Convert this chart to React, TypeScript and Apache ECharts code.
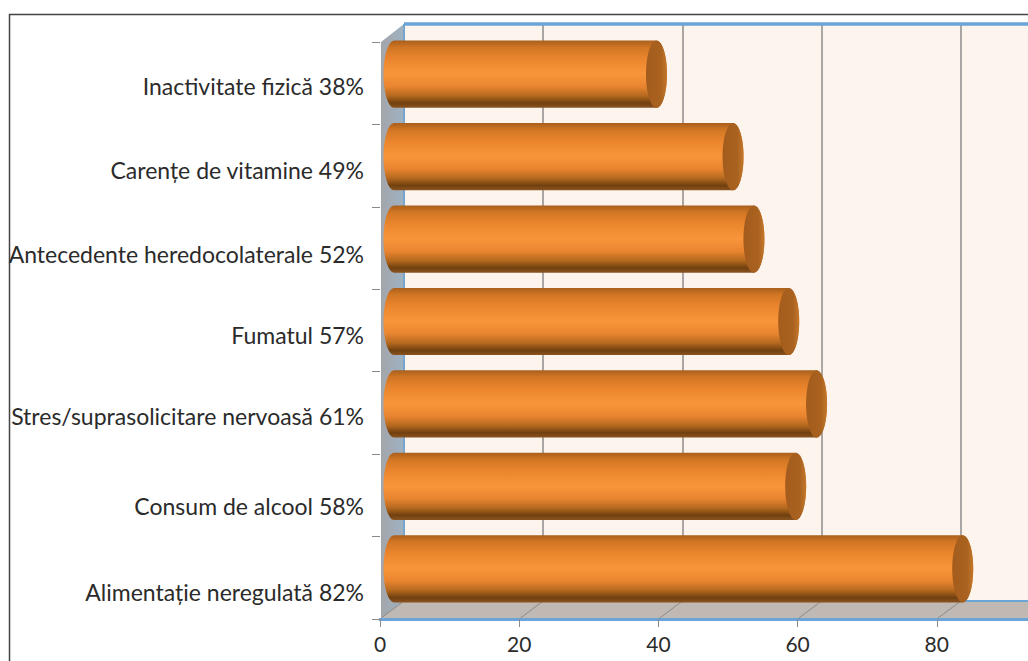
import React, { useEffect, useRef } from "react";
import * as echarts from "echarts";

const categories = [
  "Inactivitate fizică 38%",
  "Carențe de vitamine 49%",
  "Antecedente heredocolaterale 52%",
  "Fumatul 57%",
  "Stres/suprasolicitare nervoasă 61%",
  "Consum de alcool 58%",
  "Alimentație neregulată 82%",
];
const values = [38, 49, 52, 57, 61, 58, 82];
const xTicks = [0, 20, 40, 60, 80, 100];
// How far each category label is lifted off its band centre
const labelLift = [0, 0, 1, 4, 7, 2, 0];

const FONT = "Lato, 'Open Sans', sans-serif";
const TEXT = "#2b2b2b";
const BLUE = "#6aa4d8";
// Depth of the 3D box, from the front plane to the back wall
const DEPTH_X = 24;
const DEPTH_Y = -18;

const bodyFill = new echarts.graphic.LinearGradient(0, 0, 0, 1, [
  { offset: 0, color: "#a95f1c" },
  { offset: 0.1, color: "#d17624" },
  { offset: 0.28, color: "#ec862e" },
  { offset: 0.5, color: "#f8953a" },
  { offset: 0.68, color: "#e98530" },
  { offset: 0.82, color: "#b5691f" },
  { offset: 0.93, color: "#70400f" },
  { offset: 1, color: "#8a5420" },
]);
const capFill = new echarts.graphic.LinearGradient(0, 0, 1, 0, [
  { offset: 0, color: "#a35c1c" },
  { offset: 0.7, color: "#a9621f" },
  { offset: 1, color: "#c4772b" },
]);

// Left wall, floor and the blue frame lines of the box
function renderCasing(params: any) {
  const { x, y, width, height } = params.coordSys;
  const right = x + width;
  const bottom = y + height;
  const bx = x + DEPTH_X;
  const byTop = y + DEPTH_Y;
  const byBottom = bottom + DEPTH_Y;
  const line = (x1: number, y1: number, x2: number, y2: number, w: number) => ({
    type: "line",
    shape: { x1, y1, x2, y2 },
    style: { stroke: BLUE, lineWidth: w },
  });
  return {
    type: "group",
    children: [
      {
        type: "polygon",
        shape: { points: [[x + 1, y], [bx, byTop], [bx, byBottom], [x + 1, bottom]] },
        style: {
          fill: new echarts.graphic.LinearGradient(0, 0, 1, 0, [
            { offset: 0, color: "#a3a5ab" },
            { offset: 1, color: "#9fb2c2" },
          ]),
        },
      },
      {
        type: "polygon",
        shape: { points: [[x, bottom], [bx, byBottom], [right, byBottom], [right, bottom]] },
        style: { fill: "#bfb8b3" },
      },
      line(bx, byTop, right, byTop, 3.5),
      line(bx, byTop, bx, byBottom, 1.5),
      line(bx, byBottom, right, byBottom, 2),
    ],
  };
}

// Diagonal floor lines running from each front tick to the back wall
function renderFloorLine(params: any, api: any) {
  const [px] = api.coord([api.value(0), 0]);
  const bottom = params.coordSys.y + params.coordSys.height;
  return {
    type: "line",
    shape: { x1: px, y1: bottom, x2: px + DEPTH_X, y2: bottom + DEPTH_Y },
    style: { stroke: "#8f8a86", lineWidth: 1 },
  };
}

// One horizontal cylinder, centred in the depth of the box
function renderCylinder(_params: any, api: any) {
  const [endX, midY] = api.coord([api.value(0), api.value(1)]);
  const [startX] = api.coord([0, api.value(1)]);
  const h = api.size([0, 1])[1] * 0.815;
  const rx = 10.5;
  const ry = h / 2;
  const x0 = startX + DEPTH_X / 2 + 2;
  const x1 = endX + DEPTH_X / 2;
  const cy = midY + DEPTH_Y / 2;
  const top = cy - ry;
  const low = cy + ry;
  return {
    type: "group",
    children: [
      {
        type: "path",
        shape: {
          pathData: `M${x0} ${top}L${x1} ${top}A${rx} ${ry} 0 0 1 ${x1} ${low}L${x0} ${low}A${rx} ${ry} 0 0 1 ${x0} ${top}Z`,
          layout: "none",
        },
        style: { fill: bodyFill },
      },
      {
        type: "ellipse",
        shape: { cx: x1, cy, rx, ry },
        style: { fill: capFill },
      },
    ],
  };
}

// One rich-text style per lifted label
const labelRich: Record<string, any> = {};
labelLift.forEach((lift, i) => {
  labelRich[`c${i}`] = {
    color: TEXT,
    fontSize: 23,
    fontFamily: FONT,
    padding: [0, 0, lift * 2, 0],
  };
});

export default function App() {
  const ref = useRef<HTMLDivElement>(null);

  useEffect(() => {
    document.body.style.margin = "0";
    const chart = echarts.init(ref.current!, null, { renderer: "svg" });
    chart.setOption({
      animation: false,
      backgroundColor: "#ffffff",
      textStyle: { fontFamily: FONT },
      graphic: [
        {
          type: "polyline",
          shape: { points: [[9.5, 700], [9.5, 14.5], [1100, 14.5]] },
          style: { stroke: "#444444", lineWidth: 1.5, fill: "none" },
        },
      ],
      grid: [
        // Front plane of the box: ticks, value axis and the cylinders
        { left: 380, top: 42, width: 696, height: 577, outerBoundsMode: "none" },
        // Back wall with its vertical grid lines
        {
          left: 380 + DEPTH_X,
          top: 42 + DEPTH_Y,
          width: 696,
          height: 577,
          outerBoundsMode: "none",
          show: true,
          backgroundColor: "#fdf4ee",
          borderWidth: 0,
        },
        // Category labels sit on a slightly wider pitch than the ticks
        { left: 380, top: 44, width: 696, height: 590, outerBoundsMode: "none" },
      ],
      xAxis: [
        {
          type: "value",
          gridIndex: 0,
          min: 0,
          max: 100,
          interval: 20,
          splitLine: { show: false },
          axisLine: { show: true, onZero: false, lineStyle: { color: BLUE, width: 3 } },
          axisTick: { show: true, length: 8, lineStyle: { color: "#8a8a8a", width: 1 } },
          axisLabel: { color: TEXT, fontSize: 21, fontFamily: FONT, margin: 14, showMaxLabel: false },
          z: 6,
        },
        {
          type: "value",
          gridIndex: 1,
          min: 0,
          max: 100,
          interval: 20,
          axisLine: { show: false },
          axisTick: { show: false },
          axisLabel: { show: false },
          splitLine: { show: true, lineStyle: { color: "#8d8d8d", width: 1.5 } },
        },
        { type: "value", gridIndex: 2, min: 0, max: 100, show: false },
      ],
      yAxis: [
        {
          type: "category",
          gridIndex: 0,
          inverse: true,
          data: categories,
          axisLine: { show: false },
          axisTick: { show: true, length: 8, alignWithLabel: false, lineStyle: { color: "#8a8a8a", width: 1 } },
          axisLabel: { show: false },
          z: 6,
        },
        {
          type: "category",
          gridIndex: 1,
          inverse: true,
          data: categories,
          show: false,
        },
        {
          type: "category",
          gridIndex: 2,
          inverse: true,
          data: categories,
          axisLine: { show: false },
          axisTick: { show: false },
          axisLabel: {
            color: TEXT,
            fontSize: 23,
            fontFamily: FONT,
            margin: 16,
            interval: 0,
            formatter: (value: string) => `{c${categories.indexOf(value)}|${value}}`,
            rich: labelRich,
          },
          z: 6,
        },
      ],
      series: [
        {
          type: "custom",
          name: "casing",
          xAxisIndex: 0,
          yAxisIndex: 0,
          clip: false,
          z: 2,
          silent: true,
          data: [[0, 0]],
          renderItem: renderCasing,
        },
        {
          type: "custom",
          name: "floor",
          xAxisIndex: 0,
          yAxisIndex: 0,
          clip: false,
          z: 3,
          silent: true,
          data: xTicks.map((v) => [v, 0]),
          renderItem: renderFloorLine,
        },
        {
          type: "custom",
          name: "values",
          xAxisIndex: 0,
          yAxisIndex: 0,
          clip: false,
          z: 5,
          data: values.map((v, i) => [v, i]),
          renderItem: renderCylinder,
        },
      ],
    });
    return () => chart.dispose();
  }, []);

  return <div ref={ref} style={{ position: "absolute", left: 0, top: 0, width: 1028, height: 661 }} />;
}
